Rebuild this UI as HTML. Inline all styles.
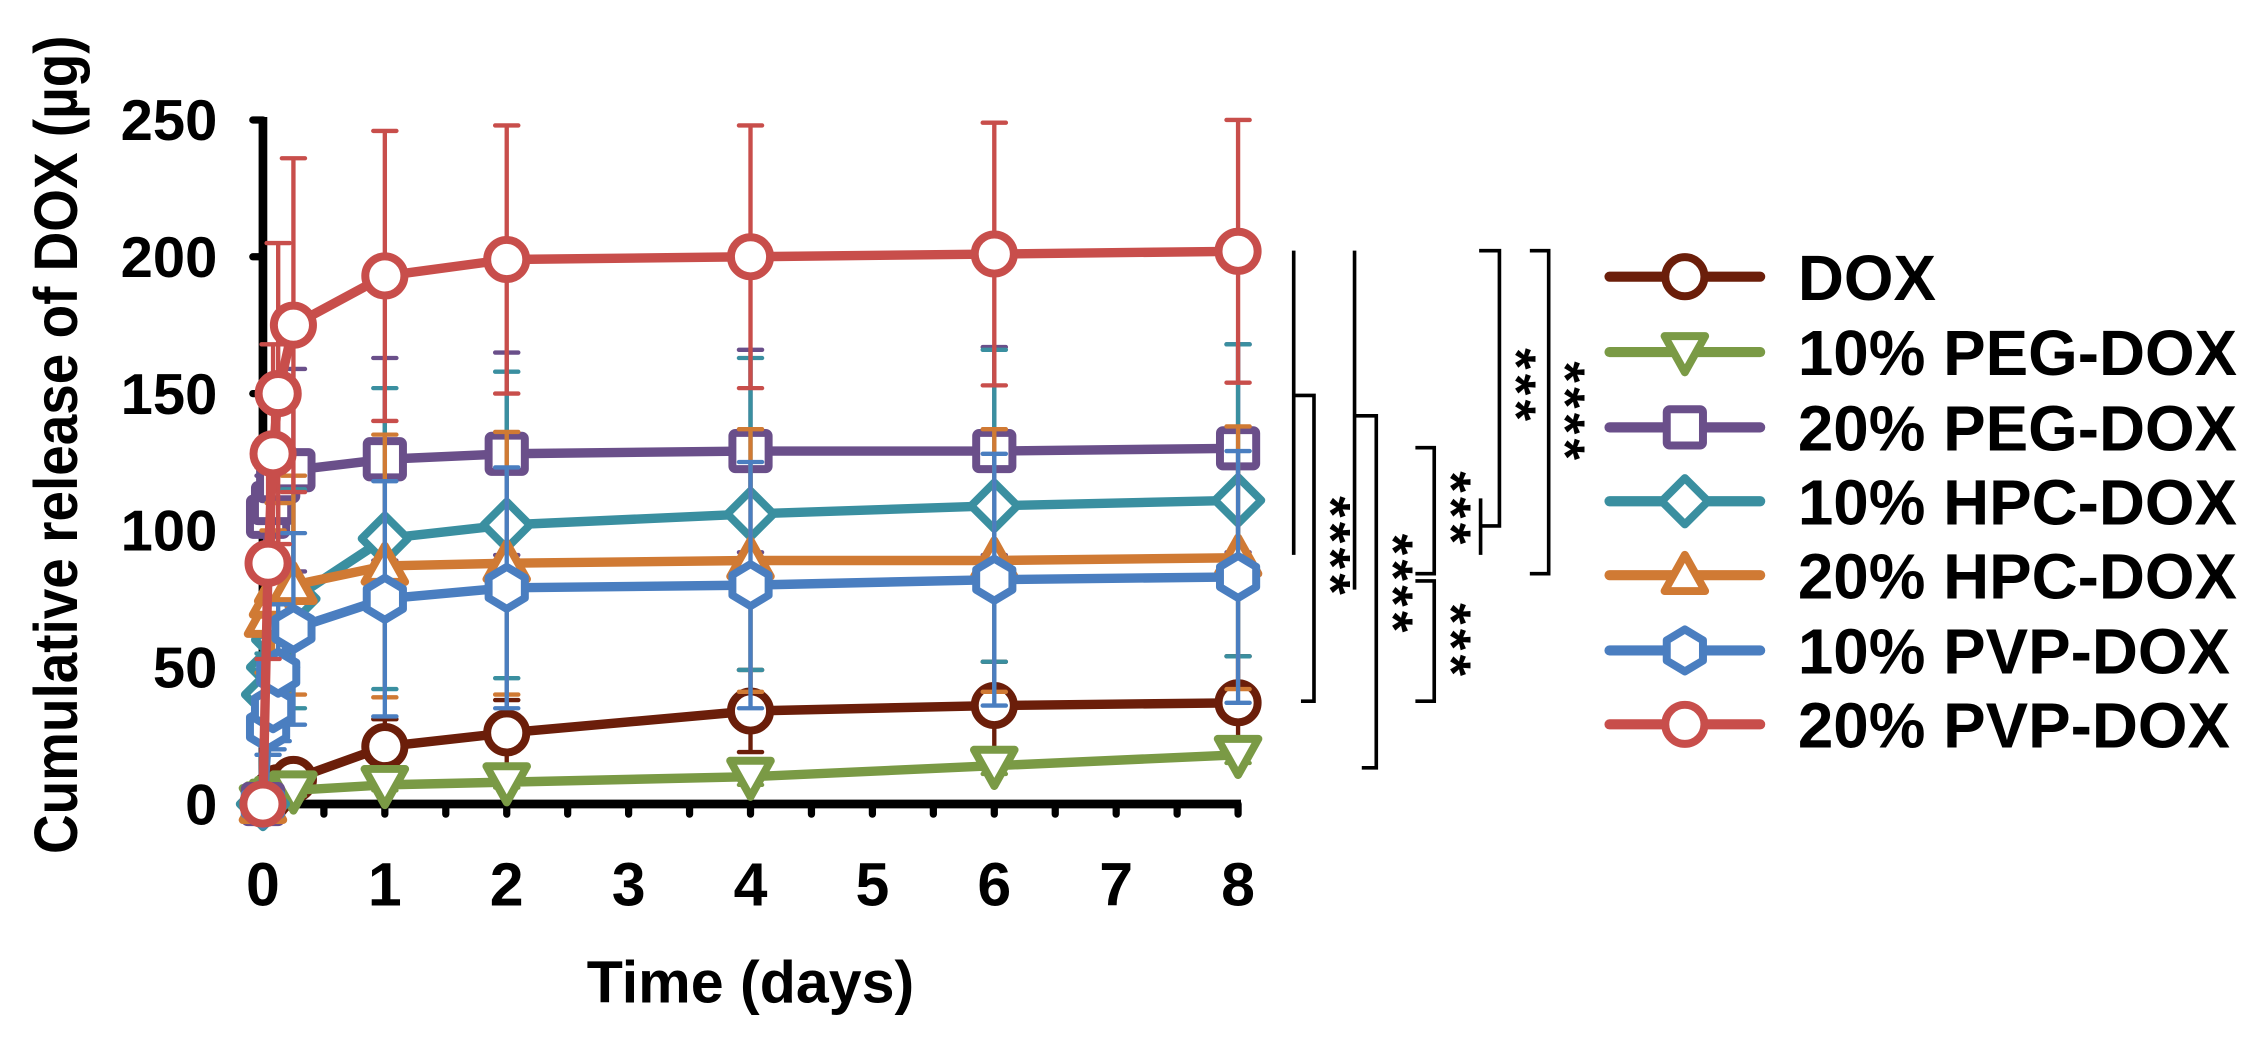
<!DOCTYPE html>
<html><head><meta charset="utf-8"><style>
html,body{margin:0;padding:0;background:#fff;}
svg{display:block;}
text{font-family:"Liberation Sans",Arial,sans-serif;font-weight:bold;fill:#000;}
</style></head><body>
<svg id="chart" width="2260" height="1038" viewBox="0 0 1560 716.5" xmlns="http://www.w3.org/2000/svg">
<g id="axes"></g>
<g id="series"></g>
<g id="sig"></g>
<g id="legend"></g>
<text x="0" y="0" font-size="42" text-anchor="middle" textLength="565" lengthAdjust="spacingAndGlyphs" transform="translate(53,307) rotate(-90)">Cumulative release of DOX (µg)</text>
<text x="518" y="692" font-size="41" text-anchor="middle" textLength="226" lengthAdjust="spacingAndGlyphs">Time (days)</text>
</svg>
<script>
const times = [0, 0.042, 0.083, 0.125, 0.25, 1, 2, 4, 6, 8];
const seriesNames = ["DOX","10% PEG-DOX","20% PEG-DOX","10% HPC-DOX","20% HPC-DOX","10% PVP-DOX","20% PVP-DOX"];
const doxVals   = [0, 2, 4, 6, 9, 21, 26, 34, 36, 37];
const peg10Vals = [0, 1, 2, 3, 5, 7, 8, 10, 14, 18];
const peg20Vals = [0, 105, 110, 118, 122, 126, 128, 129, 129, 130];
const hpc10Vals = [0, 40, 50, 60, 75, 97, 102, 106, 109, 111];
const hpc20Vals = [0, 68, 75, 80, 80, 87, 88, 89, 89, 90];
const pvp10Vals = [0, 28, 35, 48, 64, 75, 79, 80, 82, 83];
const pvp20Vals = [0, 88, 128, 150, 175, 193, 199, 200, 201, 202];
const doxSd   = [0, 1, 2, 3, 5, 10, 12, 15, 16, 17];
const peg10Sd = [0, 0.5, 1, 1, 2, 2, 2, 3, 3, 3];
const peg20Sd = [0, 15, 20, 30, 37, 37, 37, 37, 38, 38];
const hpc10Sd = [0, 15, 20, 25, 40, 55, 56, 57, 57, 57];
const hpc20Sd = [0, 20, 25, 30, 40, 48, 48, 48, 48, 48];
const pvp10Sd = [0, 10, 15, 25, 35, 43, 44, 45, 46, 46];
const pvp20Sd = [0, 35, 40, 55, 61, 53, 49, 48, 48, 48];
const yTicks = [0, 50, 100, 150, 200, 250];
const xTicks = [0, 1, 2, 3, 4, 5, 6, 7, 8];

const NS = "http://www.w3.org/2000/svg";
const X0 = 181.5, X1 = 854.6, Y0 = 555, Y1 = 82.8;
const xs = t => X0 + (X1 - X0) * t / 8;
const ys = v => Y0 - (Y0 - Y1) * v / 250;
function mk(tag, attrs, parent) {
  const e = document.createElementNS(NS, tag);
  for (const k in attrs) e.setAttribute(k, attrs[k]);
  parent.appendChild(e);
  return e;
}
const axes = document.getElementById('axes');
let e;
e = mk('line', {x1: X0, y1: Y1 - 2, x2: X0, y2: Y0 + 3, stroke: '#000', 'stroke-width': 6}, axes);


e = mk('line', {x1: X0 - 3, y1: Y0, x2: X1 + 2, y2: Y0, stroke: '#000', 'stroke-width': 6}, axes);


yTicks.forEach(v => {
  const t = mk('line', {x1: X0 - 7, y1: ys(v), x2: X0, y2: ys(v), stroke: '#000', 'stroke-width': 5, 'stroke-linecap': 'round'}, axes);
  
  
  const l = mk('text', {x: 150, y: ys(v) + 14, 'font-size': 40, 'text-anchor': 'end'}, axes);
  l.textContent = v;
  
  
});
for (let h = 0; h <= 16; h++) {
  const t = mk('line', {x1: xs(h / 2), y1: Y0, x2: xs(h / 2), y2: Y0 + 7, stroke: '#000', 'stroke-width': 5, 'stroke-linecap': 'round'}, axes);
  
  
}
xTicks.forEach(v => {
  const l = mk('text', {x: xs(v), y: 625, 'font-size': 42, 'text-anchor': 'middle'}, axes);
  l.textContent = v;
  
  
});

const colors = ['#6B1E0A', '#7A9A45', '#6A4F8A', '#3A8FA0', '#D07A34', '#4A7EC0', '#C84E4B'];
const shapes = ['circle', 'tdown', 'square', 'diamond', 'tup', 'hex', 'circle'];
const vals = [doxVals, peg10Vals, peg20Vals, hpc10Vals, hpc20Vals, pvp10Vals, pvp20Vals];
const sds = [doxSd, peg10Sd, peg20Sd, hpc10Sd, hpc20Sd, pvp10Sd, pvp20Sd];

function marker(shape, cx, cy, col, parent) {
  const st = {fill: '#fff', stroke: col, 'stroke-width': 5.5, 'stroke-linejoin': 'round'};
  let m;
  if (shape === 'circle') m = mk('circle', Object.assign({cx, cy, r: 13.5}, st), parent);
  else if (shape === 'square') m = mk('rect', Object.assign({x: cx - 12.5, y: cy - 12.5, width: 25, height: 25, rx: 2}, st), parent);
  else {
    let pts;
    if (shape === 'tdown') pts = [[-14, -11], [14, -11], [0, 14]];
    else if (shape === 'tup') pts = [[-14, 11], [14, 11], [0, -14]];
    else if (shape === 'diamond') pts = [[0, -16], [16, 0], [0, 16], [-16, 0]];
    else pts = [[0, -14.5], [12.5, -7], [12.5, 7], [0, 14.5], [-12.5, 7], [-12.5, -7]];
    m = mk('polygon', Object.assign({points: pts.map(p => (cx + p[0]) + ',' + (cy + p[1])).join(' ')}, st), parent);
  }
  return m;
}

const sg = document.getElementById('series');
vals.forEach((arr, si) => {
  const g = mk('g', {}, sg);
  
  
  const col = colors[si];
  arr.forEach((v, i) => {
    const sd = sds[si][i];
    if (sd <= 0) return;
    const x = xs(times[i]);
    const eb = mk('path', {d: `M${x},${ys(v + sd)}V${ys(v - sd)}M${x - 8},${ys(v + sd)}H${x + 8}M${x - 8},${ys(v - sd)}H${x + 8}`, stroke: col, 'stroke-width': 3, fill: 'none', 'stroke-linecap': 'round'}, g);
    
    
  });
  const ln = mk('polyline', {points: arr.map((v, i) => xs(times[i]) + ',' + ys(v)).join(' '), fill: 'none', stroke: col, 'stroke-width': 6.5, 'stroke-linejoin': 'round'}, g);
  
  
  arr.forEach((v, i) => {
    const m = marker(shapes[si], xs(times[i]), ys(v), col, g);
    
    
  });
});

// significance brackets
const sig = document.getElementById('sig');
const paths = [
  'M893,173V383M893,273H907V484H898',
  'M935,173V407M935,287H950V530H940',
  'M977,309H990V396H977',
  'M977,401H990V484H977',
  'M1021,173H1035V363H1022M1022,344V383',
  'M1056,173H1069V396H1056'
];
paths.forEach(d => {
  const p = mk('path', {d, stroke: '#000', 'stroke-width': 2.5, fill: 'none'}, sig);
  
  
});
const stars = [[920, 378, '****'], [963, 404, '****'], [1003, 352, '***'], [1003, 443, '***'], [1048, 267, '***'], [1082, 285, '****']];
stars.forEach(s => {
  const t = mk('text', {x: 0, y: 0, 'font-size': 38, 'font-weight': 'normal', 'text-anchor': 'middle', 'letter-spacing': 3, transform: `translate(${s[0] - 14},${s[1]}) rotate(90)`}, sig);
  t.textContent = s[2];
  
  
});

// legend
const lg = document.getElementById('legend');
const legY = [191, 243, 295, 346, 397, 449, 500];
seriesNames.forEach((n, i) => {
  const g = mk('g', {}, lg);
  
  
  mk('line', {x1: 1111, y1: legY[i], x2: 1215, y2: legY[i], stroke: colors[i], 'stroke-width': 7, 'stroke-linecap': 'round'}, g);
  marker(shapes[i], 1163, legY[i], colors[i], g);
  const t = mk('text', {x: 1241, y: legY[i] + 16, 'font-size': 44}, g);
  t.textContent = n;
});
</script>
</body></html>
